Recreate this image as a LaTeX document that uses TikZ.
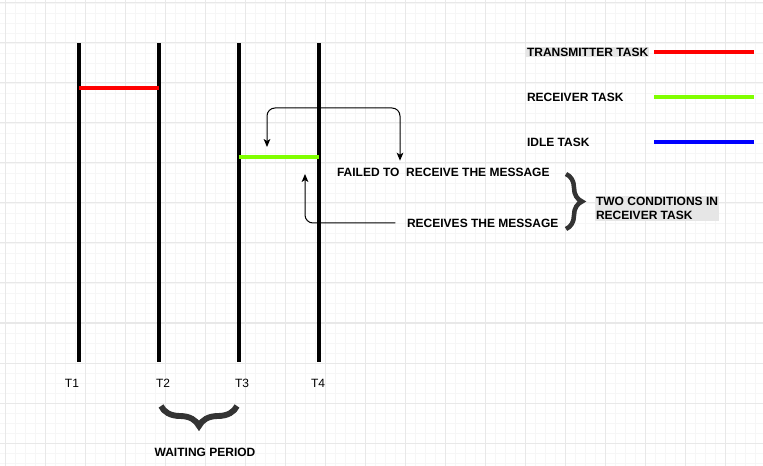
\documentclass[tikz,border=0pt]{standalone}
\usepackage{fontspec}
\setmainfont{Liberation Sans}
\usetikzlibrary{arrows.meta,decorations.pathreplacing}

\definecolor{txred}{HTML}{FF0000}
\definecolor{rxgreen}{HTML}{80FF00}
\definecolor{idleblue}{HTML}{0000FF}
\definecolor{bracegray}{HTML}{333333}
\definecolor{labelgray}{HTML}{E6E6E6}
\definecolor{gridmajor}{HTML}{E8E8E8}
\definecolor{gridminor}{HTML}{F6F6F6}

\tikzset{
	lbl/.style={anchor=west, inner sep=0.6pt, font=\bfseries\fontsize{9}{10.5}\selectfont},
	tlbl/.style={inner sep=0pt, font=\fontsize{9}{10.5}\selectfont},
	timeline/.style={line width=3pt},
	tasklen/.style={line width=3pt},
	conn/.style={line width=0.75pt, rounded corners=6pt},
	tip/.style={-{Stealth[length=6pt,width=5pt,inset=1.5pt]}},
	curly/.style={draw=bracegray, decorate, decoration={brace, amplitude=#1}},
}

\begin{document}
\begin{tikzpicture}[x=0.75pt, y=-0.75pt]
		\useasboundingbox (0,0) rectangle (763,466);

		% Rutenett
		\foreach \gx in {5,15,...,765} \draw[gridminor, line width=0.6pt] (\gx,0) -- (\gx,466);
		\foreach \gy in {3,13,...,466} \draw[gridminor, line width=0.6pt] (0,\gy) -- (763,\gy);
		\foreach \gx in {5,45,...,765} \draw[gridmajor, line width=0.75pt] (\gx,0) -- (\gx,466);
		\foreach \gy in {3,43,...,466} \draw[gridmajor, line width=0.75pt] (0,\gy) -- (763,\gy);

		% Tidslinjer T1--T4
		\foreach \i/\x/\lx in {1/79/72, 2/159/163, 3/239/242, 4/319/318} {
			\draw[timeline] (\x,43) -- (\x,362);
			\node[tlbl] (t\i) at (\lx,383) {T\i};
		}

		% Sender og mottaker
		\draw[tasklen, txred] (79,88) -- (159,88);
		\draw[tasklen, rxgreen] (239,157.5) -- (319,157.5);

		% Forklaring
		\node[lbl, fill=labelgray] (txtask) at (526,52) {TRANSMITTER TASK};
		\node[lbl] (rxtask) at (526,97) {RECEIVER TASK};
		\node[lbl] (idletask) at (526,142) {IDLE TASK};
		\draw[tasklen, txred] (654,52.5) -- (754,52.5);
		\draw[tasklen, rxgreen] (654,97.5) -- (754,97.5);
		\draw[tasklen, idleblue] (654,142.5) -- (754,142.5);

		% To tilfeller
		\node[lbl] (failed) at (336,172) {FAILED TO\ \ RECEIVE THE MESSAGE};
		\node[lbl] (recvd) at (406,223) {RECEIVES THE MESSAGE};
		\coordinate (rxfail) at (267,147);
		\coordinate (rxbend) at (267,108);
		\coordinate (rxok) at (305,174);
		\draw[conn, {Stealth[length=6pt,width=5pt,inset=1.5pt]}-{Stealth[length=6pt,width=5pt,inset=1.5pt]}]
			([xshift=48pt, yshift=4.5pt]failed.north west) |- (rxbend) -- (rxfail);
		\draw[conn, tip] ([xshift=-8pt]recvd.west) -| (rxok);

		% Klammer
		\draw[curly=12pt, line width=3.4pt] (566,174) -- (566,229);
		\node[lbl, fill=labelgray, align=left] (twocond) at (595,208.5) {TWO CONDITIONS IN\\RECEIVER TASK};
		\draw[curly=15pt, line width=4.4pt] (237,406) -- (161,406);
		\node[lbl, anchor=center] (waiting) at (205,452) {WAITING PERIOD};
	\end{tikzpicture}
\end{document}
